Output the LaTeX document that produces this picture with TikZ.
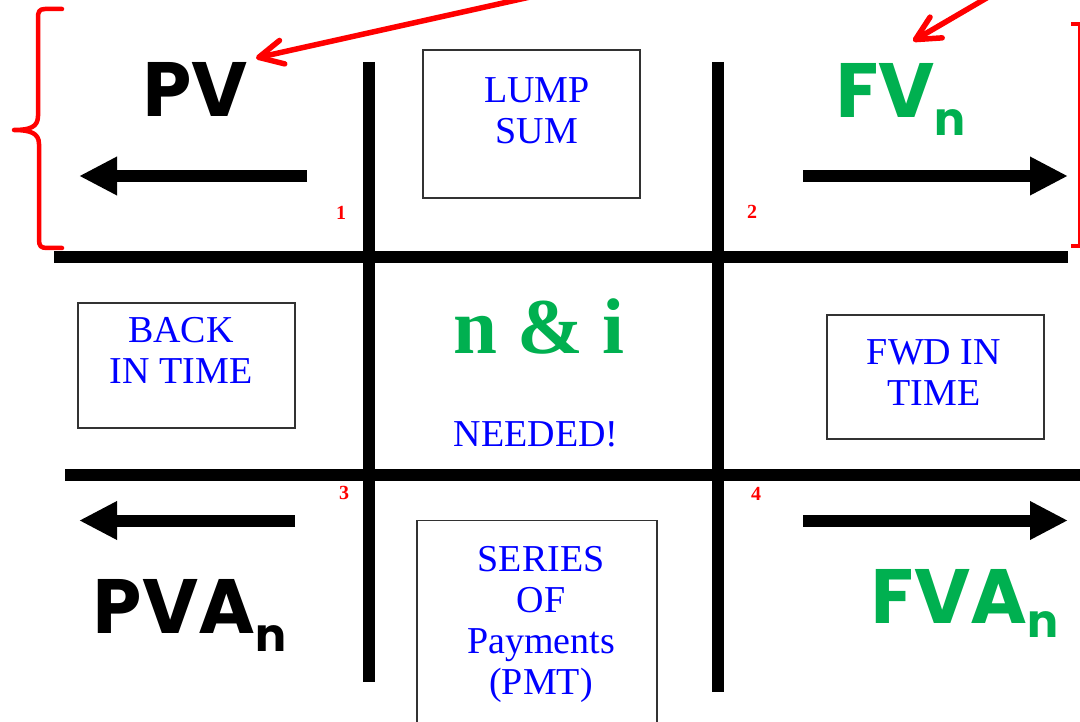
\documentclass[tikz,border=0pt]{standalone}
\usepackage{fontspec}
\setmainfont{Liberation Serif}
\newfontfamily\handfont{Poppins}
\usetikzlibrary{arrows.meta}
\definecolor{offgreen}{RGB}{0,176,80}
\definecolor{pureblue}{RGB}{0,0,255}
\definecolor{markred}{RGB}{255,0,0}
\definecolor{boxline}{RGB}{50,50,50}
\tikzset{
  gridline/.style={line width=12pt, black},
  flowarrow/.style={line width=12pt, black, -{Triangle[length=38pt,width=36pt]}},
  labelbox/.style={draw=boxline, line width=1.2pt},
  boxtext/.style={inner sep=0pt, align=center, text=pureblue, font=\fontsize{38}{41}\selectfont},
  cellnum/.style={inner sep=0pt, anchor=base, text=markred, font=\bfseries\fontsize{20}{20}\selectfont},
  hand/.style={inner sep=0pt, anchor=base, font=\handfont\bfseries\fontsize{77}{77}\selectfont},
  pointer/.style={markred, line width=5.5pt, line cap=round, line join=round,
    -{Straight Barb[length=24pt,width=24pt,round]}},
  bracket/.style={markred, line width=4.5pt, line cap=round, line join=round},
}
\newcommand{\lowsub}[2]{\raisebox{-#1pt}{\fontsize{46}{46}\selectfont #2}}
\begin{document}
\begin{tikzpicture}[x=1pt,y=-1pt]
  \useasboundingbox[fill=white] (0,0) rectangle (1080,722);

  % the grid of four quadrants
  \draw[gridline] (369,62) -- (369,682);
  \draw[gridline] (718,62) -- (718,692);
  \draw[gridline] (54,257) -- (1068,257);
  \draw[gridline] (65,474.5) -- (1080,474.5);

  % direction arrows
  \coordinate (a1s) at (307,176); \coordinate (a1e) at (79,176);
  \coordinate (a2s) at (803,176); \coordinate (a2e) at (1068,176);
  \coordinate (a3s) at (295,520.5); \coordinate (a3e) at (79,520.5);
  \coordinate (a4s) at (803,520.5); \coordinate (a4e) at (1068,520.5);
  \draw[flowarrow] (a1s) -- (a1e);
  \draw[flowarrow] (a2s) -- (a2e);
  \draw[flowarrow] (a3s) -- (a3e);
  \draw[flowarrow] (a4s) -- (a4e);

  % quadrant numbers
  \node[cellnum] (n1) at (341,220) {1};
  \node[cellnum] (n2) at (752,219) {2};
  \node[cellnum] (n3) at (344,499) {3};
  \node[cellnum] (n4) at (756,500) {4};

  % boxed labels
  \draw[labelbox] (423,50) rectangle (640,198);
  \node[boxtext] (lump) at (537,111) {LUMP\\SUM};
  \draw[labelbox] (78,303) rectangle (295,428);
  \node[boxtext] (back) at (181,350) {BACK\\IN TIME};
  \draw[labelbox] (827,315) rectangle (1044,439);
  \node[boxtext] (fwd) at (934,373) {FWD IN\\TIME};
  \draw[labelbox] (417,730) -- (417,520.5) -- (657,520.5) -- (657,730);
  \node[boxtext] (series) at (541,624) {SERIES\\OF\\Payments\\(PMT)};

  % centre cell
  \node[inner sep=0pt, anchor=base, text=offgreen, font=\bfseries\fontsize{79}{79}\selectfont] (ni) at (539,353) {n \& i};
  \node[inner sep=0pt, anchor=base, text=pureblue, font=\fontsize{38}{38}\selectfont] (needed) at (536,446) {NEEDED!};

  % value labels
  \node[hand, text=black] (pv) at (196,117) {PV};
  \node[hand, text=offgreen] (fvn) at (901,118) {FV\lowsub{18}{n}};
  \node[hand, text=black] (pvan) at (190,633) {PVA\lowsub{18}{n}};
  \node[hand, text=offgreen] (fvan) at (965,623) {FVA\lowsub{14}{n}};

  % red annotations
  \coordinate (p1s) at (530,-3); \coordinate (p1e) at (256,58);
  \coordinate (p2s) at (990,-4); \coordinate (p2e) at (913,41);
  \draw[pointer] (p1s) -- (p1e);
  \draw[pointer] (p2s) -- (p2e);
  \draw[bracket] (62,9) -- (45,9) .. controls (39,9) and (38,12) .. (38,18)
    -- (38,116) .. controls (38,127) and (30,130) .. (14,130)
    .. controls (30,130) and (39,133) .. (39,144)
    -- (39,240) .. controls (39,246) and (41,248) .. (47,248) -- (62,248);
  \draw[markred, line width=2.5pt] (1079.5,24) -- (1079.5,246);
  \draw[markred, line width=4.5pt] (1071,24) -- (1082,24);
  \draw[markred, line width=4.5pt] (1071,246) -- (1082,246);
\end{tikzpicture}
\end{document}
